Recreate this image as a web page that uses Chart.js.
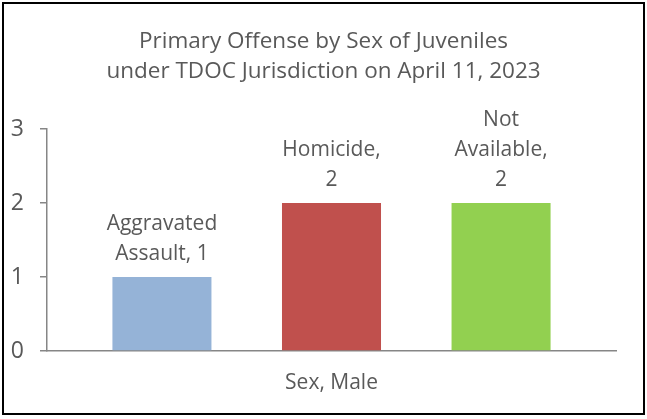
<!DOCTYPE html>
<html>
<head>
<meta charset="utf-8">
<script src="https://cdn.jsdelivr.net/npm/chart.js@4"></script>
<style>
  body { margin: 0; background: #fff; }
  #wrap { position: relative; width: 647px; height: 419px; }
  #frame { position: absolute; left: 2px; top: 2px; width: 639px; height: 409px; border: 2px solid #000; pointer-events: none; }
</style>
</head>
<body>
<div id="wrap">
  <canvas id="chart" width="647" height="419"></canvas>
  <div id="frame"></div>
</div>
<script>
  // 데이터
  var categories = ['Sex, Male'];
  var offenses = ['Aggravated Assault', 'Homicide', 'Not Available'];
  var counts = [1, 2, 2];
  var colors = ['#95B3D7', '#C0504D', '#92D050'];
  var yTicks = [0, 1, 2, 3];

  var textColor = '#595959';
  var axisColor = '#868686';
  var fontFamily = '"Open Sans", sans-serif';

  // 막대 위 라벨 (줄바꿈 포함)
  var barLabels = {
    id: 'barLabels',
    afterLayout: function(chart) {
      // 제목은 캔버스 전체 폭 기준으로 가운데 정렬
      if (chart.titleBlock) {
        chart.titleBlock.left = 0;
        chart.titleBlock.right = chart.width;
        chart.titleBlock.width = chart.width;
      }
    },
    afterDatasetsDraw: function(chart) {
      var ctx = chart.ctx;
      ctx.save();
      ctx.font = '21px ' + fontFamily;
      ctx.fillStyle = textColor;
      ctx.textAlign = 'center';
      ctx.textBaseline = 'middle';
      chart.data.datasets.forEach(function(ds, i) {
        var bar = chart.getDatasetMeta(i).data[0];
        var words = (ds.label + ', ' + ds.data[0]).split(' ');
        var lines = [];
        var cur = '';
        words.forEach(function(w) {
          var test = cur ? cur + ' ' + w : w;
          if (cur && ctx.measureText(test).width > 100) {
            lines.push(cur);
            cur = w;
          } else {
            cur = test;
          }
        });
        lines.push(cur);
        for (var k = 0; k < lines.length; k++) {
          var y = bar.y - 23 - (lines.length - 1 - k) * 30;
          ctx.fillText(lines[k], bar.x, y);
        }
      });
      ctx.restore();
    }
  };

  var ctx = document.getElementById('chart').getContext('2d');
  var chart = new Chart(ctx, {
    type: 'bar',
    data: {
      labels: categories,
      datasets: offenses.map(function(name, i) {
        return {
          label: name,
          data: [counts[i]],
          backgroundColor: colors[i],
          barPercentage: 0.584,
          categoryPercentage: 0.894
        };
      })
    },
    options: {
      responsive: false,
      animation: false,
      layout: { padding: { left: 0, right: 31, top: 0, bottom: 26 } },
      plugins: {
        legend: { display: false },
        tooltip: { enabled: false },
        title: {
          display: true,
          text: ['Primary Offense by Sex of Juveniles', 'under TDOC Jurisdiction on April 11, 2023'],
          color: textColor,
          font: { family: fontFamily, size: 22.5, weight: 'normal', lineHeight: 1.333 },
          padding: { top: 27, bottom: 42 }
        }
      },
      scales: {
        x: {
          afterFit: function(scale) { scale.height = 42; },
          grid: { display: false, drawTicks: false },
          border: { display: true, color: axisColor, width: 1.5 },
          ticks: { color: textColor, font: { family: fontFamily, size: 21 }, padding: 19 }
        },
        y: {
          min: 0,
          max: 3,
          afterFit: function(scale) { scale.width = 47; },
          afterBuildTicks: function(scale) {
            scale.ticks = yTicks.map(function(v) { return { value: v }; });
          },
          grid: { display: true, drawOnChartArea: false, drawTicks: true, tickLength: 7, color: axisColor, lineWidth: 1.5 },
          border: { display: true, color: axisColor, width: 1.5 },
          ticks: { color: textColor, font: { family: fontFamily, size: 23 }, padding: 16 }
        }
      }
    },
    plugins: [barLabels]
  });
</script>
</body>
</html>
